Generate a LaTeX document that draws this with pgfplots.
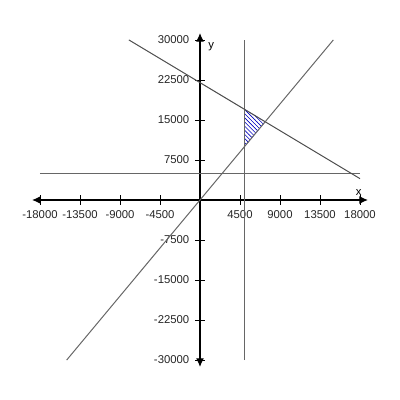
\documentclass[border=0pt]{standalone}
\usepackage{pgfplots}
\pgfplotsset{compat=1.18}
\usepackage{fontspec}
\setmainfont{Liberation Sans}
\usetikzlibrary{patterns.meta,arrows.meta}

\begin{document}
\begin{tikzpicture}
\begin{axis}[
  at={(0,0)}, anchor=origin,
  scale only axis,
  width=252pt, height=250.5pt,
  xmin=-18900, xmax=18900,
  ymin=-31300, ymax=31300,
  axis lines=middle,
  axis line style={black, line width=0.9pt, {Latex[length=6.5pt,width=6pt]}-{Latex[length=6.5pt,width=6pt]}},
  xtick={-18000,-13500,-9000,-4500,4500,9000,13500,18000},
  ytick={-30000,-22500,-15000,-7500,7500,15000,22500,30000},
  tick align=center,
  major tick length=7pt,
  tick style={black, line width=0.6pt},
  scaled ticks=false,
  /pgf/number format/assume math mode=true,
  /pgf/number format/.cd, 1000 sep={}, /pgfplots/.cd,
  ticklabel style={font=\fontsize{8.5}{10}\selectfont, text=black!85},
  xticklabel style={anchor=north, yshift=-1pt},
  yticklabel style={anchor=east, xshift=-1pt},
  xlabel={x}, ylabel={y},
  label style={font=\fontsize{8.5}{10}\selectfont},
  xlabel style={at={(axis cs:17850,0)}, anchor=south, yshift=0pt},
  ylabel style={at={(axis cs:1250,28700)}, anchor=center},
  clip=false,
]
% hatched feasible region
\addplot[draw=blue!60, line width=0.3pt,
  pattern={Lines[angle=-45,distance=2.2pt,line width=0.45pt]}, pattern color=blue!75!black]
  coordinates {(5000,17000) (7333.33,14666.67) (5000,10000)} -- cycle;
% y = 5000
\addplot[gray!80!black, line width=1pt] coordinates {(-18000,5000) (18000,5000)};
% x = 5000
\addplot[gray!80!black, line width=0.85pt] coordinates {(5000,-30000) (5000,30000)};
% y = 22000 - x
\addplot[black!70, line width=0.75pt] coordinates {(-8000,30000) (18000,4000)};
% y = 2x
\addplot[black!60, line width=0.75pt] coordinates {(-15000,-30000) (15000,30000)};
\end{axis}
\pgfresetboundingbox
\path[use as bounding box] (-150pt,-150pt) rectangle (150pt,150pt);
\end{tikzpicture}
\end{document}
